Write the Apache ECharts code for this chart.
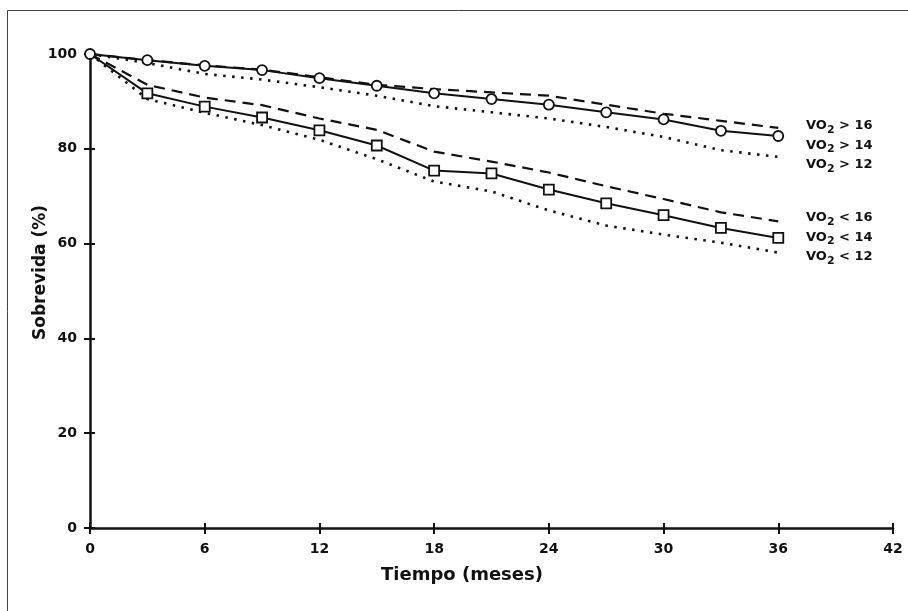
<!DOCTYPE html>
<html>
<head>
<meta charset="utf-8">
<script src="https://cdn.jsdelivr.net/npm/echarts@6/dist/echarts.min.js"></script>
<style>
html,body{margin:0;padding:0;background:#fff;}
#chart{width:908px;height:611px;}
</style>
</head>
<body>
<div id="chart"></div>
<script>
// Data (months, survival %)
const months = [0, 3, 6, 9, 12, 15, 18, 21, 24, 27, 30, 33, 36];
const vo2Gt16 = [100, 98.7, 97.6, 96.7, 95.1, 93.5, 92.6, 91.9, 91.2, 89.3, 87.4, 85.9, 84.4];
const vo2Gt14 = [100, 98.7, 97.5, 96.6, 94.9, 93.3, 91.7, 90.5, 89.3, 87.7, 86.2, 83.8, 82.7];
const vo2Gt12 = [100, 98.1, 95.8, 94.6, 93.0, 91.2, 89.0, 87.7, 86.4, 84.6, 82.5, 79.7, 78.3];
const vo2Lt16 = [100, 93.5, 90.8, 89.2, 86.4, 84.0, 79.4, 77.3, 75.0, 72.1, 69.4, 66.6, 64.7];
const vo2Lt14 = [100, 91.7, 88.9, 86.6, 83.9, 80.7, 75.4, 74.8, 71.4, 68.5, 66.0, 63.3, 61.2];
const vo2Lt12 = [100, 90.5, 87.6, 85.0, 81.9, 77.8, 73.1, 71.0, 67.0, 63.8, 61.9, 60.2, 58.1];
const xTicks = [0, 6, 12, 18, 24, 30, 36, 42];
const yTicks = [0, 20, 40, 60, 80, 100];
const seriesLabels = [
  ['VO', '2', ' > 16'],
  ['VO', '2', ' > 14'],
  ['VO', '2', ' > 12'],
  ['VO', '2', ' < 16'],
  ['VO', '2', ' < 14'],
  ['VO', '2', ' < 12']
];
const xTitle = 'Tiempo (meses)';
const yTitle = 'Sobrevida (%)';

const INK = '#111';
const FONT = 'DejaVu Sans';

function pairs(vals) { return months.map((m, i) => [m, vals[i]]); }

const chart = echarts.init(document.getElementById('chart'), null, {renderer: 'canvas'});

const dashed = [11, 7];
const dotted = [2.5, 6.5];

function lineSeries(vals, type, width, z) {
  return {
    type: 'line', data: pairs(vals), symbol: 'none', z: z,
    lineStyle: {color: INK, width: width, type: type, cap: 'butt'},
    silent: true
  };
}

const labelBaseY = [126, 145.5, 165, 218, 237.5, 257];

const option = {
  backgroundColor: '#fff',
  animation: false,
  grid: {left: 90, right: 15, top: 54, bottom: 83},
  xAxis: [
    {
      type: 'value', min: 0, max: 42, interval: 6,
      axisLine: {lineStyle: {color: INK, width: 2.5}},
      axisTick: {length: 6, lineStyle: {color: INK, width: 2}},
      axisLabel: {margin: 14, fontFamily: FONT, fontWeight: 'bold', fontSize: 14, color: INK,
        formatter: v => xTicks.includes(v) ? String(v) : ''},
      splitLine: {show: false}
    },
    {
      type: 'value', position: 'bottom', min: 0, max: 42, interval: 6,
      axisLine: {show: false},
      axisTick: {inside: true, length: 5, lineStyle: {color: INK, width: 2}},
      axisLabel: {show: false},
      splitLine: {show: false}
    }
  ],
  yAxis: [
    {
      type: 'value', min: 0, max: 100, interval: 20,
      axisLine: {show: true, lineStyle: {color: INK, width: 2.5}},
      axisTick: {show: true, length: 6, lineStyle: {color: INK, width: 2}},
      axisLabel: {margin: 13, fontFamily: FONT, fontWeight: 'bold', fontSize: 14, color: INK,
        formatter: v => yTicks.includes(v) ? String(v) : ''},
      splitLine: {show: false}
    },
    {
      type: 'value', position: 'left', min: 0, max: 100, interval: 20,
      axisLine: {show: false},
      axisTick: {show: true, inside: true, length: 5, lineStyle: {color: INK, width: 2}},
      axisLabel: {show: false},
      splitLine: {show: false}
    }
  ],
  series: [
    lineSeries(vo2Gt16, dashed, 2.2, 2),
    lineSeries(vo2Gt12, dotted, 2.6, 2),
    lineSeries(vo2Lt16, dashed, 2.2, 2),
    lineSeries(vo2Lt12, dotted, 2.6, 2),
    {
      type: 'line', data: pairs(vo2Gt14), z: 3,
      symbol: 'circle', symbolSize: 10, showAllSymbol: true,
      lineStyle: {color: INK, width: 2},
      itemStyle: {color: '#fff', borderColor: INK, borderWidth: 1.8}
    },
    {
      type: 'line', z: 3,
      data: pairs(vo2Lt14).map((p, i) => i === 0 ? {value: p, symbol: 'none'} : p),
      symbol: 'rect', symbolSize: 10, showAllSymbol: true,
      lineStyle: {color: INK, width: 2},
      itemStyle: {color: '#fff', borderColor: INK, borderWidth: 1.8}
    }
  ],
  graphic: [
    {
      type: 'rect', silent: true, z: 0,
      shape: {x: 7.5, y: 10.5, width: 1000, height: 1000},
      style: {fill: null, stroke: '#444', lineWidth: 1}
    },
    {
      type: 'text', left: 381, top: 566,
      style: {text: xTitle, fontFamily: FONT, fontWeight: 'bold', fontSize: 18, fill: INK}
    },
    {
      type: 'text', x: 32, y: 340, rotation: Math.PI / 2,
      style: {text: yTitle, fontFamily: FONT, fontWeight: 'bold', fontSize: 17, fill: INK,
        align: 'left', verticalAlign: 'top'}
    }
  ].concat(seriesLabels.map((parts, i) => ({
    type: 'text', x: 806, y: labelBaseY[i],
    style: {
      text: '{m|' + parts[0] + '}{s|' + parts[1] + '}{m|' + parts[2] + '}',
      verticalAlign: 'middle', align: 'left',
      rich: {
        m: {fontFamily: FONT, fontWeight: 'bold', fontSize: 13, fill: INK, color: INK, lineHeight: 18, verticalAlign: 'middle'},
        s: {fontFamily: FONT, fontWeight: 'bold', fontSize: 11, fill: INK, color: INK, lineHeight: 18, verticalAlign: 'middle', padding: [8, 0, 0, 0]}
      }
    }
  })))
};

chart.setOption(option);
</script>
</body>
</html>
